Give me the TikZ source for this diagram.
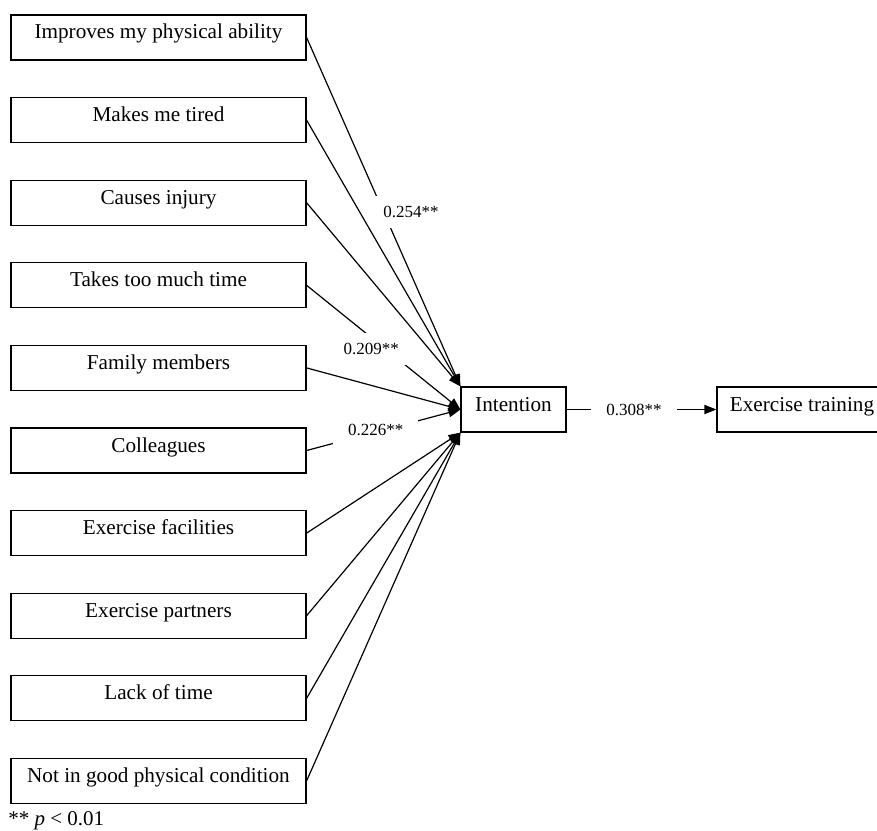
\documentclass[tikz,border=0pt]{standalone}
\usepackage{fontspec}
\setmainfont{Liberation Serif}
\usetikzlibrary{arrows.meta}

\tikzset{
  factor/.style={draw, line width=0.6pt, minimum height=22.5pt,
    inner ysep=4pt, text height=8pt, text depth=6.5pt,
    font=\fontsize{10.6}{12}\selectfont},
  link/.style={line width=0.6pt, -{Triangle[length=6pt,width=4.6pt]}},
  coef/.style={fill=white, inner xsep=7.5pt, inner ysep=5pt,
    font=\fontsize{8.5}{10}\selectfont},
}

\begin{document}
\begin{tikzpicture}[x=0.5pt, y=-0.5pt]
  \useasboundingbox (0,0) rectangle (877,830);

  % Predictors (left column)
  \node[factor, minimum width=147.5pt] (abil)  at (158.5,37.5)  {Improves my physical ability};
  \node[factor, minimum width=147.5pt] (tired) at (158.5,120.1) {Makes me tired};
  \node[factor, minimum width=147.5pt] (inj)   at (158.5,202.7) {Causes injury};
  \node[factor, minimum width=147.5pt] (much)  at (158.5,285.3) {Takes too much time};
  \node[factor, minimum width=147.5pt] (fam)   at (158.5,367.9) {Family members};
  \node[factor, minimum width=147.5pt] (coll)  at (158.5,450.5) {Colleagues};
  \node[factor, minimum width=147.5pt] (fac)   at (158.5,533.1) {Exercise facilities};
  \node[factor, minimum width=147.5pt] (part)  at (158.5,615.7) {Exercise partners};
  \node[factor, minimum width=147.5pt] (lack)  at (158.5,698.3) {Lack of time};
  \node[factor, minimum width=147.5pt] (cond)  at (158.5,780.9) {Not in good physical condition};

  % Intention and behaviour
  \node[factor, minimum width=52.5pt] (int) at (513.5,409.5) {Intention};
  \node[factor, minimum width=85pt]   (ex)  at (802,409.5)   {Exercise training};

  % Paths to the upper corner
  \draw[link] (abil.east)  -- (int.north west)
    node[coef, pos=0.5, xshift=13.75pt] {0.254**};
  \draw[link] (tired.east) -- (int.north west);
  \draw[link] (inj.east)   -- (int.north west);

  % Paths to the middle
  \draw[link] (much.east) -- (int.west)
    node[coef, pos=0.42, yshift=-5.75pt] {0.209**};
  \draw[link] (fam.east)  -- (int.west);
  \draw[link] (coll.east) -- (int.west)
    node[coef, pos=0.45, yshift=1.25pt] {0.226**};

  % Paths to the lower corner
  \draw[link] (fac.east)  -- (int.south west);
  \draw[link] (part.east) -- (int.south west);
  \draw[link] (lack.east) -- (int.south west);
  \draw[link] (cond.east) -- (int.south west);

  % Intention to behaviour
  \draw[link] (int.east) -- (ex.west)
    node[coef, pos=0.45] {0.308**};

  % Footnote
  \node[anchor=base west, inner sep=0pt, font=\fontsize{10.5}{12}\selectfont]
    (note) at (8,825) {** \textit{p} < 0.01};
\end{tikzpicture}
\end{document}
